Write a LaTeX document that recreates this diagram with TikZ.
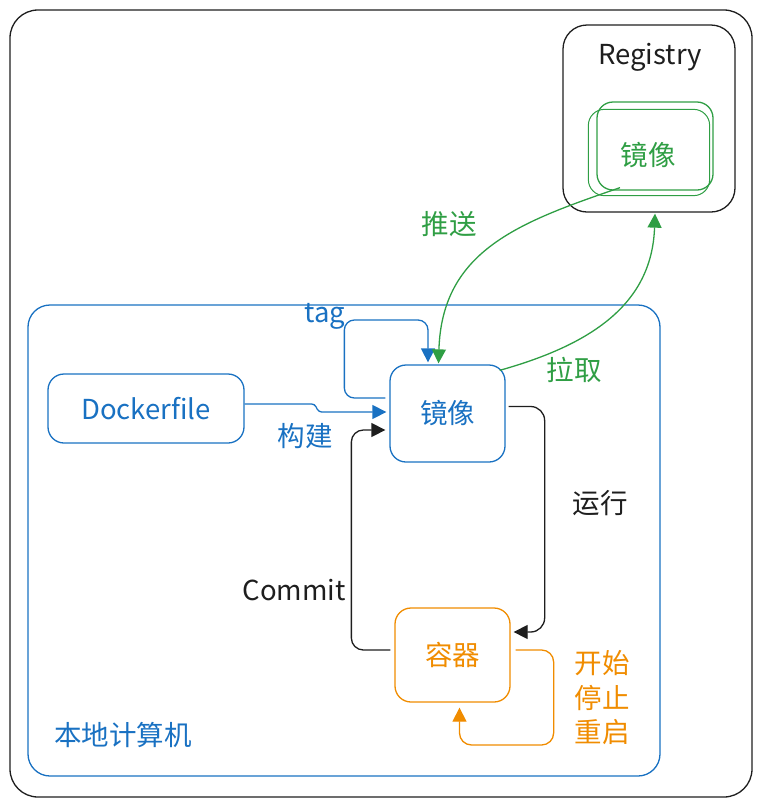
\documentclass[tikz,border=0pt]{standalone}
\usepackage{fontspec}
\setmainfont{Noto Sans CJK SC}
\usetikzlibrary{arrows.meta}
\usetikzlibrary{positioning}
\definecolor{exblue}{HTML}{1971C2}
\definecolor{exgreen}{HTML}{2F9E44}
\definecolor{exorange}{HTML}{F08C00}
\definecolor{exblack}{HTML}{1E1E1E}

\begin{document}
\begin{tikzpicture}[x=1pt, y=-1pt, >={Triangle[length=14pt, width=14pt]}, line width=1.3pt,
  sketchbox/.style={draw, rounded corners=16pt, inner sep=0pt},
  txt/.style={font=\fontsize{27.5}{34.5}\selectfont, inner sep=0pt, align=center}]

\useasboundingbox (0,0) rectangle (762,807);

% frames
\node [sketchbox, exblack, rounded corners=28pt, minimum width=742, minimum height=787] (frame) at (381,403.5) {};
\node [sketchbox, exblack, rounded corners=24pt, minimum width=172, minimum height=187] (registry) at (649,118.5) {};
\node [sketchbox, exblue, rounded corners=22pt, minimum width=632, minimum height=471] (local) at (344,540.5) {};

\node [txt, exblack] (registry-title) at (650,57) {Registry};
\node [txt, exblue] (local-title) at (123,735) {本地计算机};

% boxes
\node [sketchbox, txt, draw=exgreen, text=exgreen, minimum width=116, minimum height=88] (remote-image) at (655,146) {};
\draw [exgreen, line width=1pt, rounded corners=16] ([shift={(-8,8)}]remote-image.north west) rectangle ([shift={(-4,5)}]remote-image.south east);
\node [txt, text=exgreen] (remote-image-text) at (648,155) {镜像};
\node [sketchbox, txt, draw=exblue, text=exblue, minimum width=196, minimum height=69] (dockerfile) at (146,408.5) {Dockerfile};
\node [sketchbox, txt, draw=exblue, text=exblue, minimum width=115, minimum height=97] (image) at (447.5,413.5) {镜像};
\node [sketchbox, txt, draw=exorange, text=exorange, minimum width=115, minimum height=94] (container) at (452.5,655) {容器};

% edge labels
\foreach \n/\t/\c/\x/\y in {build/构建/exblue/305/436, tag/tag/exblue/325/316,
    push/推送/exgreen/449/224, pull/拉取/exgreen/574/370,
    run/运行/exblack/600/503, commit/Commit/exblack/294/590}
  \node [txt, text=\c] (\n-label) at (\x,\y) {\t};
\node [txt, text=exorange] (lifecycle-label) at (602,698) {开始\\停止\\重启};

% connectors
\draw [->, exblue, rounded corners=3] ([yshift=4.5]dockerfile.east) -- ++(70,0) -- ++(4,8) -- ([shift={(-3,-1.5)}]image.west);
\draw [->, exblue, rounded corners=10] ([shift={(-4,-15.5)}]image.west) -| ++(-41,-78) -| ([shift={(-19.5,-2)}]image.north);
\draw [->, exgreen] ([shift={(-35,-3)}]remote-image.south) .. controls (520,222) and (442,250) .. ([shift={(-9,-1)}]image.north);
\draw [->, exgreen] ([shift={(-6,6)}]image.north east) .. controls (590,345) and (652,305) .. ([shift={(6,1)}]registry.south);
\draw [->, exblack, rounded corners=14] ([shift={(3,-7)}]image.east) -- ++(36,0) |- ([shift={(3,-23)}]container.east);
\draw [->, exblack, rounded corners=12] ([shift={(-4,-5)}]container.west) -- ++(-39,0) |- ([shift={(-4,16.5)}]image.west);
\draw [->, exorange, rounded corners=12] ([shift={(5,-5)}]container.east) -- ++(38,0) -- ++(0,95) -| ([shift={(7,5)}]container.south);

\end{tikzpicture}
\end{document}
